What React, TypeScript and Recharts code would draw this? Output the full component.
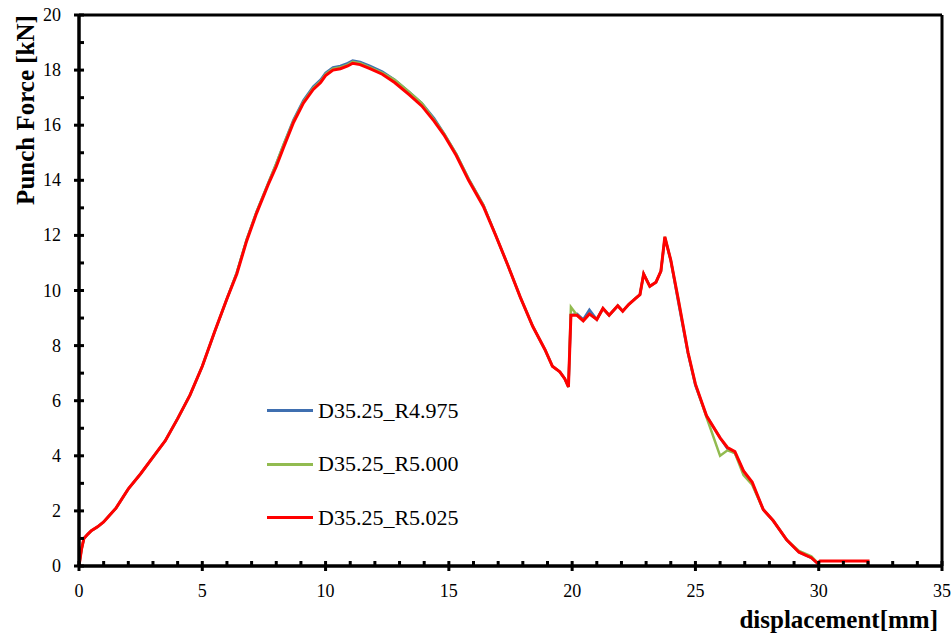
import { LineChart, Line, XAxis, YAxis, ReferenceLine } from 'recharts';

const displacement = [
  0, 0.1, 0.2, 0.35, 0.5, 0.75, 1.0, 1.25, 1.5, 2.0,
  2.5, 3.0, 3.5, 4.0, 4.5, 5.0, 5.5, 6.0, 6.4, 6.8,
  7.2, 7.7, 8.0, 8.3, 8.7, 9.1, 9.5, 9.8, 10.0, 10.3,
  10.6, 10.9, 11.1, 11.4, 11.8, 12.3, 12.8, 13.4, 13.9, 14.4,
  14.8, 15.3, 15.8, 16.4, 16.9, 17.4, 17.9, 18.4, 18.9, 19.2,
  19.5, 19.7, 19.85, 19.95, 20.2, 20.45, 20.7, 21.0, 21.25, 21.5,
  21.85, 22.05, 22.3, 22.55, 22.75, 22.9, 23.15, 23.4, 23.6, 23.76,
  24.0, 24.3, 24.7, 25.0, 25.45, 26.0, 26.3, 26.6, 26.95, 27.3,
  27.75, 28.15, 28.7, 29.2, 29.7, 29.95, 30.05, 32.0, 32.0,
];

const forceR4975 = [
  0, 0.6, 1.0, 1.15, 1.28, 1.42, 1.6, 1.85, 2.1, 2.8,
  3.35, 3.95, 4.55, 5.35, 6.2, 7.25, 8.5, 9.7, 10.65, 11.85,
  12.85, 13.95, 14.6, 15.3, 16.2, 16.9, 17.4, 17.65, 17.9, 18.1,
  18.15, 18.25, 18.35, 18.3, 18.15, 17.95, 17.65, 17.2, 16.8, 16.25,
  15.7, 14.95, 14.05, 13.1, 12.0, 10.9, 9.75, 8.7, 7.85, 7.25,
  7.05, 6.8, 6.5, 9.1, 9.15, 8.95, 9.3, 8.95, 9.35, 9.1,
  9.45, 9.25, 9.5, 9.7, 9.85, 10.6, 10.15, 10.3, 10.7, 11.9,
  11.1, 9.6, 7.7, 6.55, 5.45, 4.65, 4.25, 4.1, 3.45, 3.0,
  2.05, 1.65, 0.95, 0.5, 0.3, 0.1, 0.03, 0.03, 0.0,
];

const forceR5000 = [
  0, 0.6, 1.0, 1.15, 1.28, 1.42, 1.6, 1.85, 2.1, 2.8,
  3.35, 3.95, 4.55, 5.35, 6.2, 7.25, 8.5, 9.7, 10.65, 11.85,
  12.85, 13.95, 14.6, 15.3, 16.15, 16.85, 17.35, 17.6, 17.85, 18.05,
  18.1, 18.2, 18.3, 18.25, 18.1, 17.9, 17.65, 17.2, 16.8, 16.2,
  15.7, 14.95, 14.05, 13.1, 12.0, 10.9, 9.75, 8.7, 7.85, 7.25,
  7.05, 6.8, 6.5, 9.4, 9.1, 8.9, 9.15, 8.95, 9.35, 9.1,
  9.45, 9.25, 9.5, 9.7, 9.85, 10.6, 10.15, 10.3, 10.7, 11.95,
  11.1, 9.7, 7.75, 6.6, 5.4, 4.0, 4.2, 4.1, 3.3, 2.95,
  2.05, 1.65, 0.95, 0.55, 0.35, 0.12, 0.03, 0.03, 0.0,
];

const forceR5025 = [
  0, 0.6, 1.0, 1.15, 1.28, 1.42, 1.6, 1.85, 2.1, 2.8,
  3.35, 3.95, 4.55, 5.35, 6.2, 7.25, 8.5, 9.7, 10.6, 11.8,
  12.8, 13.9, 14.5, 15.2, 16.1, 16.8, 17.3, 17.55, 17.8, 18.0,
  18.05, 18.15, 18.25, 18.2, 18.05, 17.85, 17.55, 17.1, 16.7, 16.15,
  15.65, 14.9, 14.0, 13.05, 12.0, 10.9, 9.75, 8.7, 7.85, 7.25,
  7.05, 6.8, 6.5, 9.1, 9.1, 8.9, 9.15, 8.95, 9.35, 9.1,
  9.45, 9.25, 9.5, 9.7, 9.85, 10.6, 10.15, 10.3, 10.7, 11.95,
  11.1, 9.7, 7.75, 6.6, 5.45, 4.65, 4.3, 4.15, 3.45, 3.05,
  2.05, 1.65, 0.95, 0.5, 0.3, 0.1, 0.18, 0.18, 0.0,
];

const seriesNames = ['D35.25_R4.975', 'D35.25_R5.000', 'D35.25_R5.025'];
const seriesColors = ['#3F6FB0', '#92BB50', '#FF0000'];

const xTicks = [0, 1, 2, 3, 4, 5, 6, 7, 8, 9, 10, 11, 12, 13, 14, 15, 16, 17, 18, 19, 20, 21, 22, 23, 24, 25, 26, 27, 28, 29, 30, 31, 32, 33, 34, 35];
const yTicks = [0, 1, 2, 3, 4, 5, 6, 7, 8, 9, 10, 11, 12, 13, 14, 15, 16, 17, 18, 19, 20];

const serif = "'Liberation Serif', 'Times New Roman', serif";

const toPoints = (ys: number[]) => displacement.map((x, i) => ({ x, y: ys[i] }));
const seriesData = [toPoints(forceR4975), toPoints(forceR5000), toPoints(forceR5025)];

function XTick(props: any) {
  const { x, y, payload } = props;
  const v = payload.value;
  const major = v % 5 === 0;
  return (
    <g>
      <line x1={x} x2={x} y1={y - 5} y2={major ? y + 5 : y} stroke="#000" strokeWidth={3} />
      {major && (
        <text x={x} y={y + 31} textAnchor="middle" fontSize={18} style={{ fontFamily: serif }} fill="#000">
          {v}
        </text>
      )}
    </g>
  );
}

function YTick(props: any) {
  const { x, y, payload } = props;
  const v = payload.value;
  const major = v % 2 === 0;
  return (
    <g>
      <line x1={major ? x - 5 : x} x2={x + 5} y1={y} y2={y} stroke="#000" strokeWidth={3} />
      {major && (
        <text x={x - 18} y={y + 6} textAnchor="end" fontSize={18} style={{ fontFamily: serif }} fill="#000">
          {v}
        </text>
      )}
    </g>
  );
}

export default function App() {
  return (
    <div style={{ position: 'absolute', left: 0, top: 0, width: 952, height: 639, background: '#fff' }}>
      <LineChart width={952} height={639} margin={{ top: 15, right: 10, bottom: 23, left: 10 }}>
        <XAxis
          type="number"
          dataKey="x"
          domain={[0, 35]}
          ticks={xTicks}
          interval={0}
          tick={XTick}
          tickLine={false}
          tickSize={0}
          tickMargin={0}
          height={50}
          axisLine={{ stroke: '#000', strokeWidth: 3.5 }}
          allowDuplicatedCategory={false}
        />
        <YAxis
          type="number"
          dataKey="y"
          domain={[0, 20]}
          ticks={yTicks}
          interval={0}
          tick={YTick}
          tickLine={false}
          tickSize={0}
          tickMargin={0}
          width={69}
          axisLine={{ stroke: '#000', strokeWidth: 3.5 }}
        />
        <ReferenceLine y={20} stroke="#000" strokeWidth={3} />
        <ReferenceLine x={35} stroke="#000" strokeWidth={3} />
        {seriesData.map((d, i) => (
          <Line
            key={seriesNames[i]}
            data={d}
            dataKey="y"
            name={seriesNames[i]}
            type="linear"
            stroke={seriesColors[i]}
            strokeWidth={i === 2 ? 3 : 2.5}
            dot={false}
            isAnimationActive={false}
          />
        ))}
      </LineChart>
      <div style={{ position: 'absolute', left: 267, top: 384, fontFamily: serif, fontSize: 22, color: '#000' }}>
        {seriesNames.map((n, i) => (
          <div key={n} style={{ display: 'flex', alignItems: 'center', height: 53.5 }}>
            <div style={{ width: 46, height: 3, background: seriesColors[i], marginRight: 5 }} />
            <span>{n}</span>
          </div>
        ))}
      </div>
      <svg width={952} height={639} style={{ position: 'absolute', left: 0, top: 0, pointerEvents: 'none' }}>
        <text x={938} y={628} textAnchor="end" fontSize={25} fontWeight="bold" style={{ fontFamily: serif }} fill="#000">
          displacement[mm]
        </text>
        <text
          x={34}
          y={110}
          textAnchor="middle"
          fontSize={25}
          fontWeight="bold"
          style={{ fontFamily: serif }}
          fill="#000"
          transform="rotate(-90, 34, 110)"
        >
          Punch Force [kN]
        </text>
      </svg>
    </div>
  );
}
